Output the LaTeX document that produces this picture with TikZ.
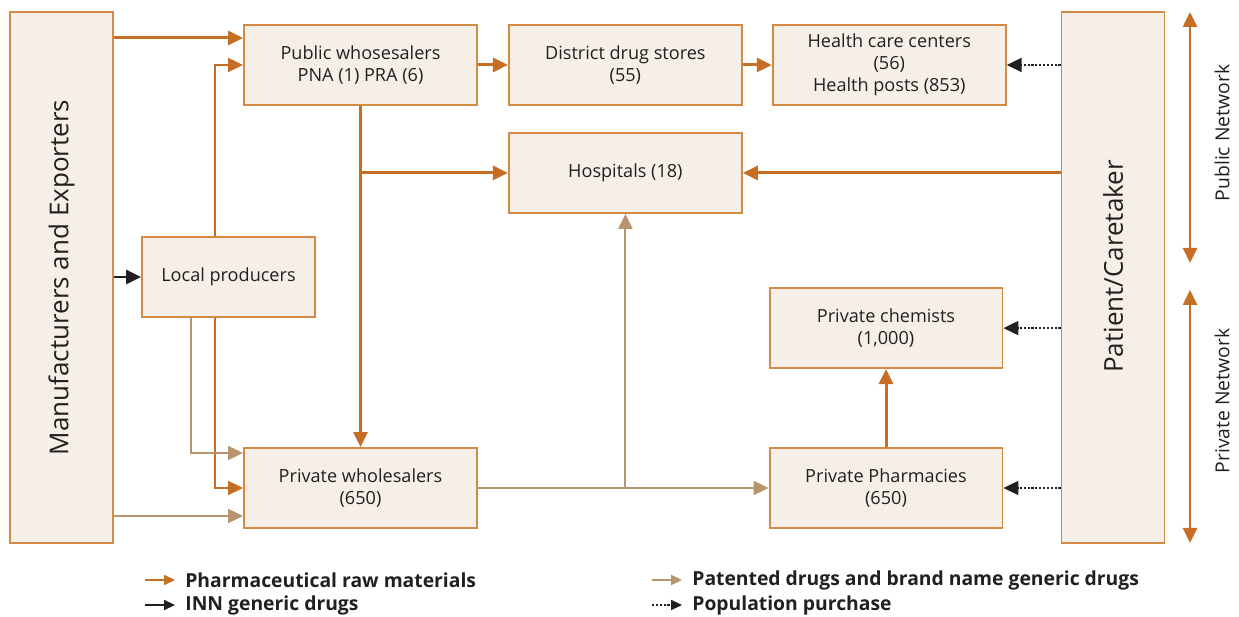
\documentclass[tikz,border=0pt]{standalone}
\usepackage{fontspec}
\setmainfont{Open Sans}
\usetikzlibrary{arrows.meta,positioning}

\definecolor{rawc}{HTML}{C66F24}
\definecolor{edge}{HTML}{D28A45}
\definecolor{paper}{HTML}{F5EFE8}
\definecolor{tan}{HTML}{B9956F}
\definecolor{ink}{HTML}{231F20}

\tikzset{
  box/.style={draw=edge, fill=paper, line width=1.1pt, minimum width=4.66cm,
    minimum height=1.6cm, inner sep=0pt, align=center, text=ink,
    font=\fontsize{10.3}{12.7}\selectfont},
  tall/.style={box, minimum width=2.06cm, minimum height=10.62cm,
    font=\fontsize{14.8}{16}\selectfont},
  tip/.style={-{Triangle[length=0.3cm,width=0.28cm]}},
  raw/.style={tip, draw=rawc, line width=1.7pt},
  rawthin/.style={tip, draw=rawc, line width=1.1pt},
  brand/.style={tip, draw=tan, line width=1.2pt},
  inn/.style={tip, draw=ink, line width=1.4pt},
  buy/.style={tip, draw=ink, line width=1.2pt, densely dotted},
  net/.style={draw=rawc, line width=1.5pt,
    {Triangle[length=0.3cm,width=0.28cm]}-{Triangle[length=0.3cm,width=0.28cm]}},
  side/.style={rotate=90, text=ink, font=\fontsize{11}{13}\selectfont},
  key/.style={anchor=west, inner sep=0pt, text=ink, font=\fontsize{11}{13}\selectfont\bfseries},
  keytip/.style={line width=1.2pt, -{Triangle[length=0.22cm,width=0.2cm]}}
}

\begin{document}
\begin{tikzpicture}[x=0.02cm, y=0.02cm]
\useasboundingbox (0,0) rectangle (1239,617);

\node[tall] (Manuf) at (61.5,339.5) {\rotatebox{90}{Manufacturers and Exporters}};
\node[tall] (Patient) at (1113,339.5) {\rotatebox{90}{\hspace{0.44cm}Patient/Caretaker}};
\node[box] (PubW) at (360.5,552) {Public whosesalers\\PNA (1) PRA (6)};
\node[box, right=0.6cm of PubW] (Dist) {District drug stores\\(55)};
\node[box, right=0.58cm of Dist] (HCC) {Health care centers\\(56)\\Health posts (853)};
\node[box, below=0.52cm of Dist] (Hosp) {Hospitals (18)};
\node[box, minimum width=3.46cm] (Local) at (228.5,340) {Local producers};
\node[box] (PrivW) at (360.5,129) {Private wholesalers\\(650)};
\node[box] (Pharm) at (886,129) {Private Pharmacies\\(650)};
\node[box, above=1.56cm of Pharm] (Chem) {Private chemists\\(1,000)};

\draw[raw] (Manuf.east |- 0,579) -- (PubW.west |- 0,579);
\draw[inn] (Manuf.east |- Local.west) -- (Local.west);
\draw[brand] (Manuf.east |- 0,101) -- (PrivW.west |- 0,101);
\draw[rawthin] (Local.north -| 215,0) |- (PubW.west);
\draw[rawthin] (Local.south -| 215,0) |- (PrivW.west);
\draw[brand] (Local.south -| 191,0) |- (PrivW.west |- 0,164);
\draw[raw] (PubW) -- (Dist);
\draw[raw] (Dist) -- (HCC);
\draw[raw] (PubW.south) -- (PrivW.north);
\draw[raw] (PubW.south |- Hosp.west) -- (Hosp.west);
\draw[raw] (Patient.west |- Hosp.east) -- (Hosp.east);
\draw[buy] (Patient.west |- HCC.east) -- (HCC.east);
\draw[buy] (Patient.west |- Chem.east) -- (Chem.east);
\draw[buy] (Patient.west |- Pharm.east) -- (Pharm.east);
\draw[brand] (PrivW.east) -- (Pharm.west);
\draw[brand] (Hosp.south |- PrivW.east) -- (Hosp.south);
\draw[raw] (Pharm.north) -- (Chem.south);

\coordinate (pubTop) at (1190,605);
\coordinate (pubBot) at (1190,354);
\coordinate (privTop) at (1190,327);
\coordinate (privBot) at (1190,74);
\draw[net] (pubTop) -- (pubBot);
\draw[net] (privTop) -- (privBot);
\node[side] (PubNet) at (1222,484) {Public Network};
\node[side] (PrivNet) at (1222,216) {Private Network};

\node[key] (kRaw) at (185,37) {Pharmaceutical raw materials};
\node[key] (kInn) at (185,12) {INN generic drugs};
\node[key] (kBrand) at (692,37) {Patented drugs and brand name generic drugs};
\node[key] (kBuy) at (692,12) {Population purchase};
\draw[keytip, draw=rawc] ([xshift=-0.8cm]kRaw.west) -- ([xshift=-0.2cm]kRaw.west);
\draw[keytip, draw=ink] ([xshift=-0.8cm]kInn.west) -- ([xshift=-0.2cm]kInn.west);
\draw[keytip, draw=tan] ([xshift=-0.8cm]kBrand.west) -- ([xshift=-0.2cm]kBrand.west);
\draw[keytip, draw=ink, densely dotted] ([xshift=-0.8cm]kBuy.west) -- ([xshift=-0.2cm]kBuy.west);
\end{tikzpicture}
\end{document}
